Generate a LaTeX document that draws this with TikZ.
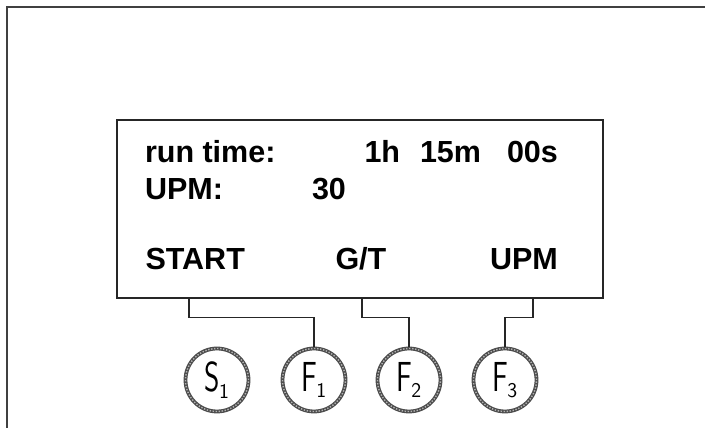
\documentclass[tikz,border=0pt]{standalone}
\usepackage{fontspec}
\setmainfont{Liberation Sans}
\usepackage{graphicx}
\begin{document}
\begin{tikzpicture}[x=1pt,y=1pt,
  lcd/.style={font=\fontsize{30.5}{30.5}\selectfont\bfseries, anchor=base west, inner sep=0pt, outer sep=0pt},
  ring/.style={circle, draw=black!70, line width=3.8pt, minimum size=63pt, inner sep=0pt,
    font=\sffamily\fontsize{42}{42}\selectfont,
    postaction={draw=black!30, line width=1.4pt, dash pattern=on 1.4pt off 1.6pt}},
  wire/.style={draw=black!85, line width=1.3pt},
  frame/.style={draw=black!75, line width=1.7pt}]
\useasboundingbox (0,0) rectangle (705,428);
% outer frame
\draw[frame] (7,-2) |- (707,421);
% display
\node[draw=black!85, line width=1.3pt, minimum width=486pt, minimum height=178pt, inner sep=0pt] (box) at (360,219) {};
\node[lcd] (rt) at (145,265) {run time:};
\node[lcd] (h) at (364.5,265) {1h};
\node[lcd] (m) at (420,265) {15m};
\node[lcd] (s) at (507,265) {00s};
\node[lcd] (upm) at (145,228.5) {UPM:};
\node[lcd] (v) at (312,228.5) {30};
\node[lcd] (start) at (145.5,158) {START};
\node[lcd] (gt) at (335.5,158) {G/T};
\node[lcd] (upmk) at (490,158) {UPM};
% keys
\newcommand{\keylab}[2]{\scalebox{0.7}[1]{#1}\kern-1pt\raisebox{-6.5pt}{\fontsize{21}{21}\selectfont #2}}
\node[ring] (s1) at (217,48) {\keylab{S}{1}};
\node[ring] (f1) at (314,48) {\keylab{F}{1}};
\node[ring] (f2) at (409,48) {\keylab{F}{2}};
\node[ring] (f3) at (505,48) {\keylab{F}{3}};
% wires
\coordinate (k1) at (189,110.5);
\coordinate (k2) at (362,110.5);
\coordinate (k3) at (533,110.5);
\draw[wire] (box.south -| k1) -- (k1) -| (f1.north);
\draw[wire] (box.south -| k2) -- (k2) -| (f2.north);
\draw[wire] (box.south -| k3) -- (k3) -| (f3.north);
\end{tikzpicture}
\end{document}
